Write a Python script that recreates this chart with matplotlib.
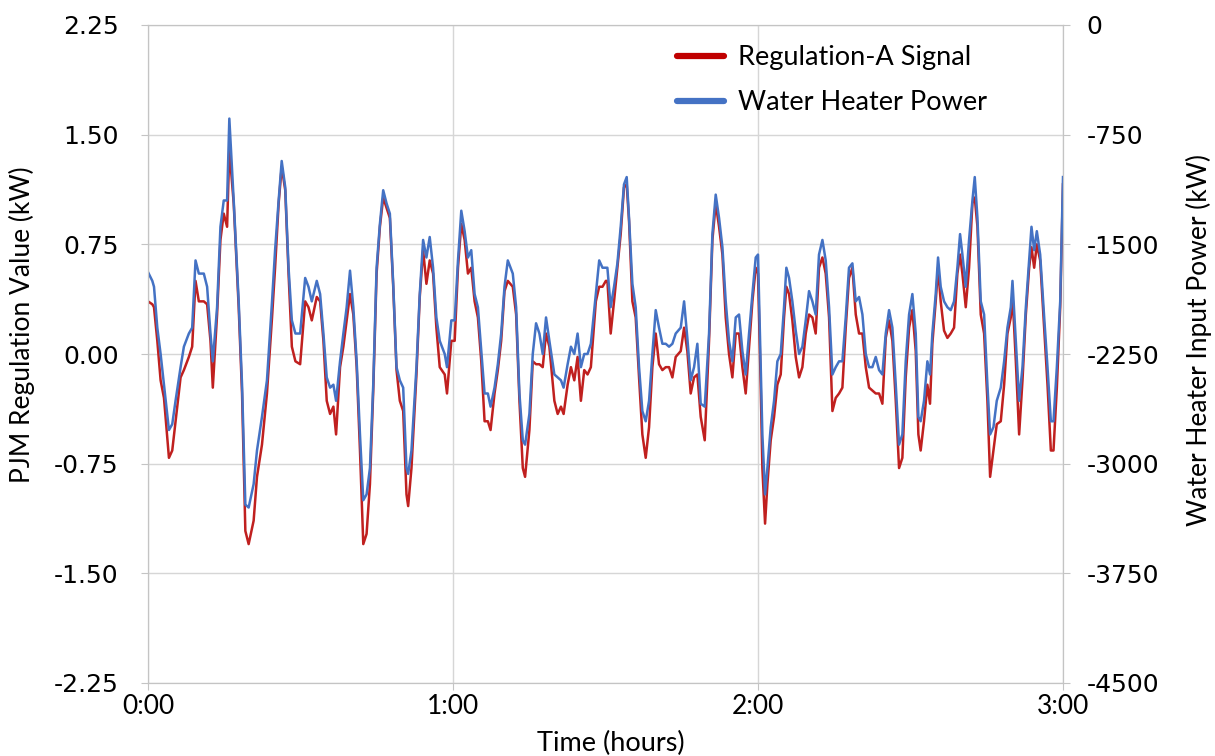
import matplotlib.pyplot as plt
from matplotlib.lines import Line2D

plt.rcParams['axes.unicode_minus'] = False

# time in minutes from 0:00
minutes = [
    0.0, 0.85, 1.18, 1.83, 2.48, 3.14, 4.12, 4.77, 5.42, 6.41, 7.06, 8.04, 8.69, 9.35,
    10.0, 10.98, 11.63, 12.29, 12.75, 13.59, 14.25, 14.9, 15.56, 16.0, 16.86, 17.84,
    18.5, 19.15, 19.8, 20.78, 21.44, 22.42, 23.4, 24.4, 25.0, 25.7, 26.3, 27.0, 27.65,
    28.3, 29.0,
    29.93, 30.92, 31.57, 32.22, 33.2, 33.86, 34.51, 35.16, 35.82, 36.47, 37.0, 37.78,
    38.43, 39.08, 39.74, 40.39, 41.05, 41.7, 42.35, 43.0, 43.66, 44.31, 44.97, 45.62,
    46.27, 46.93, 47.58, 48.24, 48.89, 49.54, 50.2, 50.85, 51.18, 51.83, 52.81, 53.46,
    54.12, 54.77, 55.42, 56.08, 56.73, 57.39, 58.37, 58.82, 59.67,
    60.33, 60.98, 61.63, 62.29, 62.94, 63.59, 64.25, 64.9, 65.56, 66.21, 66.86, 67.39,
    68.17, 68.82, 69.48, 70.13, 70.78, 71.76, 72.42, 73.07, 73.73, 74.18, 75.03, 75.69,
    76.34, 77.0, 77.65, 78.3, 78.96, 79.94, 80.59, 81.24, 81.76, 82.55, 83.2, 83.86,
    84.51, 85.16, 85.82, 86.47, 87.12, 88.1, 88.76, 89.41, 90.07,
    90.37, 91.02, 91.68, 92.34, 92.99, 93.64, 94.17, 94.63, 95.29, 95.94, 96.6, 97.25,
    97.91, 98.57, 99.22, 99.88, 100.53, 101.19, 101.85, 102.5, 103.16, 103.81, 104.8,
    105.46, 106.1, 106.76, 107.42, 108.07, 108.73, 109.52, 110.37, 111.03, 111.68,
    112.34, 113.0, 113.65, 114.3, 114.96, 115.62, 116.27, 116.93, 117.58, 118.24,
    118.9, 119.55, 120.0, 120.53,
    120.86, 121.39, 121.85, 122.5, 123.16, 123.81, 124.47, 125.12, 125.58, 126.11,
    126.76, 127.42, 128.08, 128.73, 129.39, 130.04, 130.7, 131.35, 132.0, 132.67,
    133.32, 133.98, 134.64, 135.29, 135.95, 136.6, 137.26, 137.9, 138.57, 139.23,
    139.88, 140.54, 141.2, 141.85, 142.5, 143.16, 143.82, 144.47, 145.13, 145.78,
    146.44, 147.1, 147.75, 148.4, 149.06, 149.72, 150.37, 151.03, 151.55,
    152.0, 152.66, 153.32, 153.84, 154.3, 154.96, 155.42, 155.94, 156.6, 157.26,
    157.91, 158.57, 159.22, 159.75, 160.21, 160.87, 161.52, 162.18, 162.64, 163.17,
    163.82, 164.48, 165.13, 165.66, 166.32, 166.97, 167.76, 168.42, 169.07, 169.73,
    170.06, 170.72, 171.37, 172.03, 172.69, 173.34, 173.8, 174.33, 174.85, 175.51,
    176.3, 176.95, 177.61, 178.13, 178.79, 179.45, 180.0,
]

# PJM regulation signal (left axis, kW)
reg_signal = [
    0.36, 0.34, 0.32, 0.09, -0.18, -0.30, -0.71, -0.66, -0.46, -0.16, -0.11, -0.02, 0.05,
    0.50, 0.36, 0.36, 0.34, 0.09, -0.23, 0.27, 0.78, 0.96, 0.87, 1.40, 1.03, 0.32, -0.27,
    -1.21, -1.30, -1.14, -0.84, -0.62, -0.27, 0.25, 0.59, 1.03, 1.28, 1.12, 0.55, 0.05,
    -0.05,
    -0.07, 0.36, 0.32, 0.23, 0.39, 0.36, 0.09, -0.32, -0.41, -0.36, -0.55, -0.09, 0.05,
    0.23, 0.41, 0.27, -0.09, -0.66, -1.30, -1.23, -0.89, -0.25, 0.55, 0.87, 1.07, 1.00,
    0.93, 0.46, -0.11, -0.32, -0.39, -0.96, -1.04, -0.78, -0.14, 0.39, 0.71, 0.48, 0.64,
    0.55, 0.18, -0.09, -0.14, -0.27, 0.09,
    0.09, 0.59, 0.89, 0.78, 0.55, 0.59, 0.36, 0.25, -0.05, -0.46, -0.46, -0.52, -0.27,
    -0.11, 0.09, 0.43, 0.50, 0.46, 0.27, -0.32, -0.78, -0.84, -0.52, -0.05, -0.07, -0.07,
    -0.09, 0.14, 0.05, -0.32, -0.41, -0.36, -0.41, -0.21, -0.09, -0.18, -0.02, -0.32,
    -0.11, -0.14, -0.09, 0.36, 0.46, 0.46, 0.50,
    0.50, 0.14, 0.36, 0.59, 0.82, 1.14, 1.16, 0.91, 0.36, 0.25, -0.16, -0.55, -0.71,
    -0.50, -0.09, 0.14, -0.07, -0.11, -0.09, -0.09, -0.16, -0.02, 0.02, 0.18, 0.02,
    -0.27, -0.16, -0.14, -0.43, -0.59, 0.09, 0.78, 1.03, 0.87, 0.68, 0.25, 0.00, -0.16,
    0.14, 0.14, -0.09, -0.27, 0.05, 0.36, 0.59, 0.55, -0.21,
    -0.78, -1.16, -0.89, -0.59, -0.43, -0.21, -0.14, 0.25, 0.46, 0.41, 0.23, -0.02,
    -0.16, -0.09, 0.14, 0.27, 0.25, 0.14, 0.59, 0.66, 0.55, 0.25, -0.39, -0.30, -0.27,
    -0.23, 0.18, 0.52, 0.59, 0.27, 0.14, 0.14, -0.09, -0.23, -0.25, -0.27, -0.27, -0.34,
    0.11, 0.23, 0.09, -0.32, -0.78, -0.71, -0.16, 0.18, 0.30, 0.02, -0.55,
    -0.66, -0.46, -0.21, -0.34, 0.07, 0.36, 0.59, 0.36, 0.16, 0.11, 0.14, 0.18, 0.55,
    0.68, 0.55, 0.32, 0.59, 1.03, 1.07, 0.87, 0.27, 0.14, -0.32, -0.84, -0.66, -0.48,
    -0.46, -0.21, 0.14, 0.25, 0.41, -0.05, -0.55, -0.18, 0.27, 0.59, 0.73, 0.59, 0.75,
    0.64, 0.18, -0.21, -0.66, -0.66, -0.23, 0.32, 1.16,
]

# water heater input power (right axis, kW)
heater_kw = [
    -1690, -1750, -1790, -2070, -2250, -2460, -2770, -2730, -2570, -2340, -2200, -2110,
    -2070, -1610, -1700, -1700, -1790, -2110, -2300, -1930, -1380, -1200, -1200, -640,
    -1200, -1890, -2460, -3280, -3300, -3140, -2910, -2680, -2430, -1890, -1540, -1200,
    -930, -1110, -1660, -2020, -2110,
    -2110, -1730, -1790, -1890, -1750, -1840, -2110, -2410, -2480, -2460, -2570, -2300,
    -2110, -1930, -1680, -1930, -2300, -2800, -3250, -3210, -3030, -2460, -1660, -1360,
    -1130, -1220, -1290, -1770, -2340, -2430, -2480, -3030, -3070, -2910, -2340, -1840,
    -1470, -1590, -1450, -1660, -2000, -2160, -2250, -2340, -2020,
    -2020, -1610, -1270, -1410, -1590, -1540, -1840, -1930, -2230, -2520, -2520, -2610,
    -2480, -2320, -2110, -1790, -1610, -1700, -1930, -2520, -2840, -2870, -2660, -2250,
    -2040, -2110, -2250, -2000, -2160, -2390, -2410, -2430, -2480, -2320, -2200, -2250,
    -2110, -2340, -2250, -2250, -2180, -1840, -1610, -1660, -1660,
    -1660, -1930, -1790, -1630, -1380, -1090, -1040, -1320, -1770, -1930, -2340, -2640,
    -2710, -2570, -2250, -1950, -2070, -2180, -2180, -2200, -2180, -2110, -2070, -1890,
    -2140, -2430, -2340, -2180, -2590, -2610, -2110, -1430, -1160, -1320, -1520, -1890,
    -2160, -2300, -2000, -1980, -2230, -2390, -2110, -1840, -1590, -1570, -2340,
    -2800, -3210, -3030, -2750, -2570, -2300, -2250, -1930, -1660, -1730, -1890, -2090,
    -2250, -2200, -2020, -1820, -1890, -1980, -1570, -1470, -1610, -1930, -2390, -2340,
    -2300, -2300, -2000, -1660, -1630, -1890, -1860, -1980, -2250, -2340, -2340, -2270,
    -2360, -2390, -2110, -1950, -2070, -2460, -2870, -2800, -2300, -1980, -1840, -2110,
    -2680,
    -2710, -2570, -2300, -2390, -2110, -1840, -1590, -1790, -1890, -1930, -1950, -1890,
    -1660, -1430, -1570, -1790, -1470, -1200, -1040, -1320, -1890, -1980, -2460, -2800,
    -2750, -2570, -2480, -2300, -2070, -1930, -1750, -2160, -2570, -2340, -1930, -1610,
    -1380, -1540, -1410, -1570, -2000, -2340, -2710, -2710, -2340, -1890, -1040,
]

left_ticks = [-2.25, -1.5, -0.75, 0.0, 0.75, 1.5, 2.25]
left_labels = ['-2.25', '-1.50', '-0.75', '0.00', '0.75', '1.50', '2.25']
right_ticks = [-4500, -3750, -3000, -2250, -1500, -750, 0]
right_labels = ['-4500', '-3750', '-3000', '-2250', '-1500', '-750', '0']
hour_ticks = [0, 60, 120, 180]
hour_labels = ['0:00', '1:00', '2:00', '3:00']

red = '#C0201F'
blue = '#4472C4'
grey = '#c4c4c4'

fig = plt.figure(figsize=(12.15, 7.56), dpi=100)
ax = fig.add_axes([148 / 1215, 73 / 756, 915 / 1215, 658 / 756])
ax2 = ax.twinx()

ax.plot(minutes, reg_signal, color=red, lw=1.8)
ax2.plot(minutes, heater_kw, color=blue, lw=1.8)

ax.set_xlim(0, 180)
ax.set_ylim(-2.25, 2.25)
ax2.set_ylim(-4500, 0)

ax.set_xticks(hour_ticks)
ax.set_xticklabels(hour_labels, fontfamily='Lato', fontsize=19)
ax.set_yticks(left_ticks)
ax.set_yticklabels(left_labels, fontfamily='DejaVu Sans', fontsize=18)
ax2.set_yticks(right_ticks)
ax2.set_yticklabels(right_labels, fontfamily='DejaVu Sans', fontsize=18)

ax.grid(True, color='#d6d6d6', lw=1)
ax.set_axisbelow(True)
ax.tick_params(axis='y', length=5, color=grey, pad=16)
ax.tick_params(axis='x', length=5, color=grey, pad=3)
ax2.tick_params(axis='y', length=5, color=grey, pad=12)
for a in (ax, ax2):
    for s in a.spines.values():
        s.set_color(grey)

fig.text(22 / 1215, 1 - 325 / 756, 'PJM Regulation Value (kW)', rotation=90,
         ha='center', va='center', fontsize=19, family='Lato')
fig.text(1199 / 1215, 1 - 340 / 756, 'Water Heater Input Power (kW)', rotation=90,
         ha='center', va='center', fontsize=19, family='Lato')
fig.text(611 / 1215, 1 - 743 / 756, 'Time (hours)', ha='center', va='center',
         fontsize=19.5, family='Lato')

handles = [Line2D([], [], color='#C00000', lw=4.5, solid_capstyle='round'),
           Line2D([], [], color=blue, lw=4.5, solid_capstyle='round')]
fig.legend(handles, ['Regulation-A Signal', 'Water Heater Power'], loc='upper left',
           bbox_to_anchor=(677 / 1215, 1 - 45 / 756), frameon=False,
           prop={'family': 'Lato', 'size': 19.5}, handlelength=1.75, handletextpad=0.5,
           labelspacing=0.75, borderpad=0, borderaxespad=0)

fig.savefig('out.png', dpi=100)
